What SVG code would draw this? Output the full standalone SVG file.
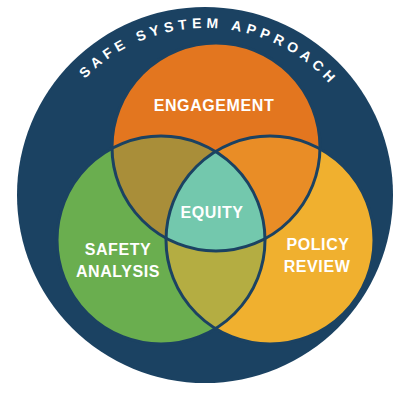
<svg xmlns="http://www.w3.org/2000/svg" width="409" height="395" viewBox="0 0 409 395">
  <defs>
    <style>
      .lbl { font-family: "Liberation Sans", Arial, sans-serif; font-weight: bold; font-size: 16px; fill: #ffffff; text-anchor: middle; letter-spacing: 0.6px; }
      .ring { font-family: "Liberation Sans", Arial, sans-serif; font-weight: bold; font-size: 14px; fill: #ffffff; letter-spacing: 4.8px; }
      .edge { fill: none; stroke: #1b4262; stroke-width: 3; }
    </style>
    <circle id="cEng" cx="216" cy="147" r="104"/>
    <circle id="cSaf" cx="161" cy="240" r="104"/>
    <circle id="cPol" cx="270" cy="240" r="104"/>
    <clipPath id="clipEng"><use href="#cEng"/></clipPath>
    <clipPath id="clipSaf"><use href="#cSaf"/></clipPath>
    <clipPath id="clipPol"><use href="#cPol"/></clipPath>
    <path id="ringArc" d="M 38,195 A 167 167 0 0 1 372,195"/>
  </defs>

  <rect width="409" height="395" fill="#ffffff"/>

  <!-- outer ring with its title -->
  <g id="approach">
    <circle cx="205" cy="195" r="188" fill="#1b4262"/>
    <text class="ring"><textPath href="#ringArc" startOffset="51%" text-anchor="middle">SAFE SYSTEM APPROACH</textPath></text>
  </g>

  <!-- the three sets -->
  <g id="engagement">
    <use href="#cEng" fill="#e3761f"/>
  </g>
  <g id="safety-analysis">
    <use href="#cSaf" fill="#6aae4f"/>
  </g>
  <g id="policy-review">
    <use href="#cPol" fill="#f0b02f"/>
  </g>

  <!-- pairwise overlaps -->
  <g id="overlaps">
    <use href="#cSaf" fill="#a98e39" clip-path="url(#clipEng)"/>
    <use href="#cPol" fill="#e98d26" clip-path="url(#clipEng)"/>
    <use href="#cPol" fill="#b4ad42" clip-path="url(#clipSaf)"/>
  </g>

  <!-- centre where all three meet -->
  <g id="equity">
    <g clip-path="url(#clipEng)">
      <use href="#cPol" fill="#73c8ad" clip-path="url(#clipSaf)"/>
    </g>
  </g>

  <!-- circle outlines -->
  <g id="outlines">
    <use href="#cEng" class="edge"/>
    <use href="#cSaf" class="edge"/>
    <use href="#cPol" class="edge"/>
  </g>

  <!-- labels -->
  <g id="labels">
    <text class="lbl" x="214" y="111">ENGAGEMENT</text>
    <text class="lbl" x="212" y="218">EQUITY</text>
    <text class="lbl" x="118" y="255">SAFETY</text>
    <text class="lbl" x="118" y="277">ANALYSIS</text>
    <text class="lbl" x="318" y="250">POLICY</text>
    <text class="lbl" x="317" y="272">REVIEW</text>
  </g>
</svg>
